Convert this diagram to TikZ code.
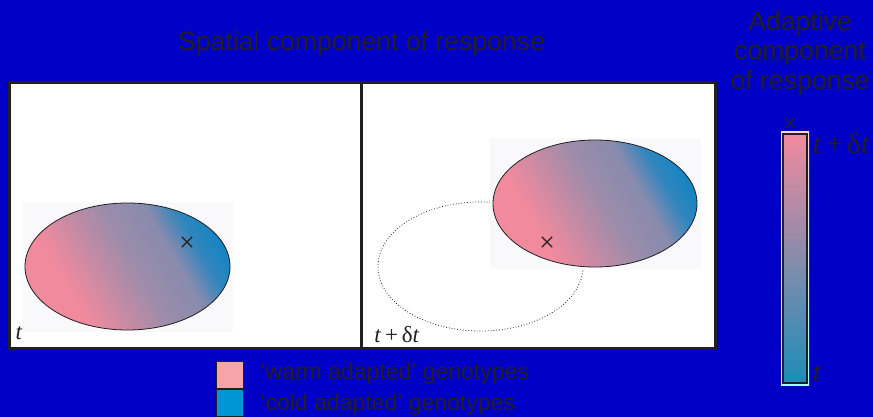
\documentclass[tikz,border=0pt]{standalone}
\usepackage{fontspec}
\setmainfont{Liberation Sans}
\newfontfamily\labfont{Liberation Serif}
\usetikzlibrary{shapes.misc}
\definecolor{Bg}{HTML}{0000C6}
\definecolor{Ink}{HTML}{231F20}
\definecolor{Warm}{HTML}{F28A9E}
\definecolor{Mauve}{HTML}{9C8CAA}
\definecolor{Cold}{HTML}{1784C2}
\definecolor{Teal}{HTML}{1C8DB8}
\definecolor{WarmKey}{HTML}{F5A5A8}
\definecolor{ColdKey}{HTML}{0096D6}
\definecolor{Paper}{HTML}{F9F9FB}
\pgfdeclarehorizontalshading{popshade}{100bp}{color(0bp)=(Warm); color(32bp)=(Warm);
  color(52bp)=(Mauve); color(63bp)=(Mauve!85!Cold); color(70bp)=(Cold!80!Mauve);
  color(76bp)=(Cold); color(100bp)=(Cold)}

\begin{document}
\begin{tikzpicture}[x=1pt,y=-1pt,
    panel/.style={draw=Ink,line width=3pt},
    pop/.style={draw=Ink,line width=0.8pt,shading=popshade,shading angle=30},
    xmark/.style={cross out,draw=Ink,line width=1.3pt,minimum size=9pt,inner sep=0pt},
    head/.style={text=Ink,font=\fontsize{26.6}{29.5}\selectfont,align=center},
    key/.style={draw=Ink,line width=1pt,minimum size=27pt,inner sep=0pt},
    keytext/.style={text=Ink,font=\fontsize{23}{26}\selectfont,anchor=west},
    tlab/.style={text=Ink,font=\labfont\fontsize{23}{26}\selectfont}]
  \useasboundingbox[fill=Bg] (0,0) rectangle (873,417);

  % headings
  \node[head] (spatial) at (361.5,44) {Spatial component of response};
  \node[head] (adaptive) at (800,53) {Adaptive\\component\\of response};

  % the two snapshots
  \fill[white] (9,83) rectangle (715,348);
  \fill[Paper] (23,202) rectangle (233,332);
  \draw[Ink,dotted,line width=0.8pt] (480.5,266.5) ellipse [x radius=102.5pt,y radius=64.5pt];
  \fill[Paper] (490,138) rectangle (701,269);
  \path[pop] (127.5,266.5) ellipse [x radius=102.5pt,y radius=63.5pt];
  \path[pop] (595,203.5) ellipse [x radius=102pt,y radius=63.5pt];
  \draw[panel] (9,83) rectangle (715,348);
  \draw[panel] (361,83) -- (361,348);
  \foreach \n/\p in {xold/{(187,242)},xnew/{(547,242)},xbar/{(790,123)}}
    \node[xmark] (\n) at \p {};
  \node[tlab] (tnow) at (19,333) {\textit{t}};
  \node[tlab] (tlater) at (397,335) {\textit{t}\,+\,δ\textit{t}};

  % adaptive scale
  \shade[top color=Warm!35!white,bottom color=cyan!35!white] (781,132) rectangle (809,385);
  \shade[draw=Ink,line width=1.8pt,top color=Warm,middle color=Mauve,bottom color=Teal]
    (783,134) rectangle (807,383);
  \node[tlab,font=\labfont\fontsize{29}{32}\selectfont,anchor=west] (tbartop) at (809,144)
    {\textit{t}\,+\,δ\textit{t}};
  \node[tlab,font=\labfont\fontsize{29}{32}\selectfont,anchor=west] (tbarbot) at (809,373) {\textit{t}};

  % key
  \node[key,fill=WarmKey] (warm) at (230,375) {};
  \node[key,fill=ColdKey,anchor=north] (cold) at (warm.south) {};
  \node[keytext] (warmtxt) at (257,374) {‘warm adapted’ genotypes};
  \node[keytext] (coldtxt) at (257,405) {‘cold adapted’ genotypes};
\end{tikzpicture}
\end{document}
